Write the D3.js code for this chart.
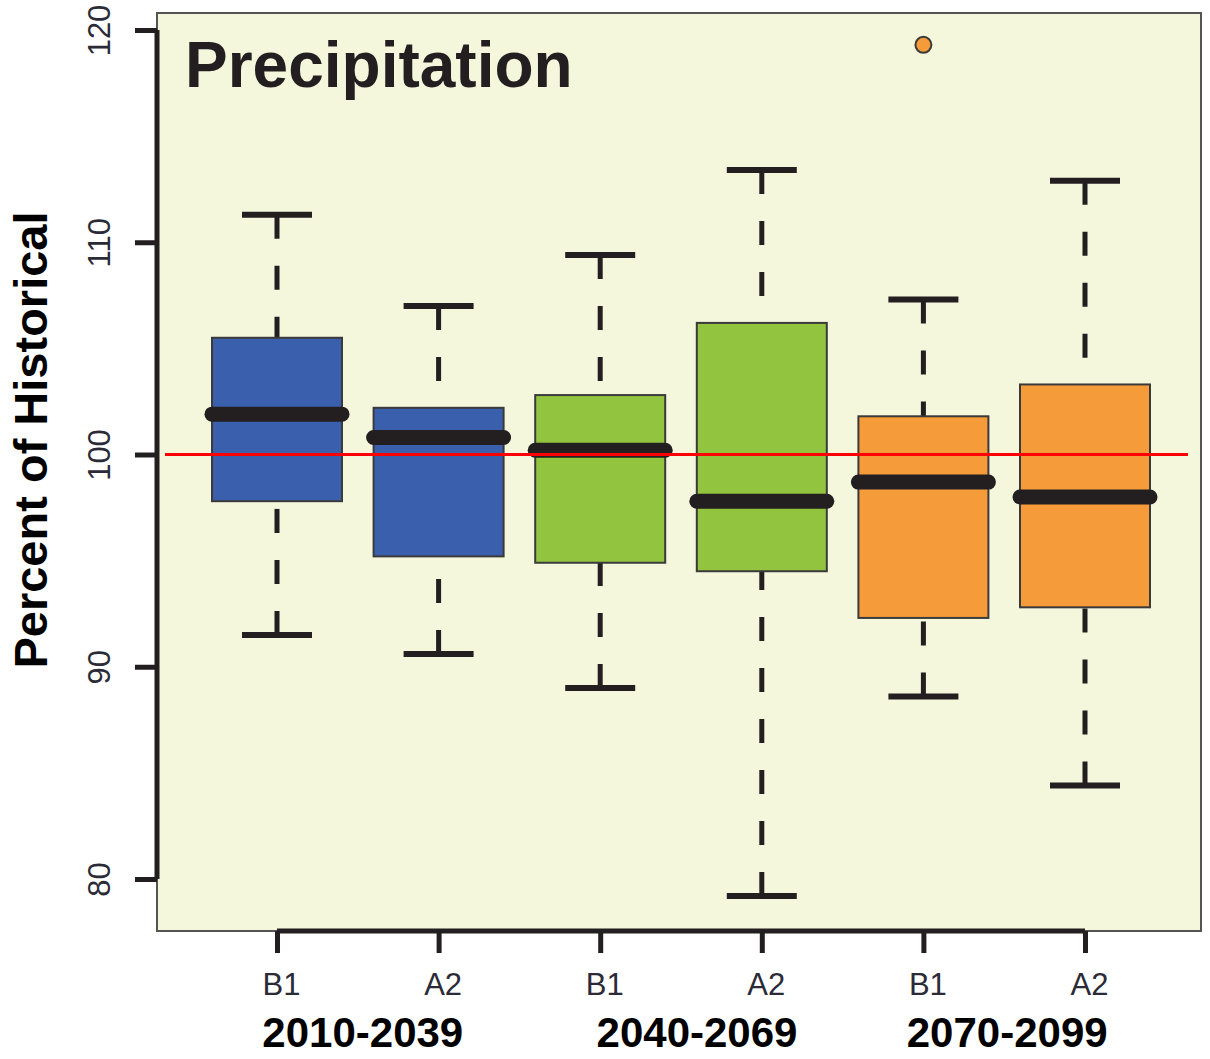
<!DOCTYPE html>
<html>
<head>
<meta charset="utf-8">
<script src="https://cdn.jsdelivr.net/npm/d3@7"></script>
<style>
  html, body { margin: 0; padding: 0; background: #ffffff; }
  svg { display: block; }
</style>
</head>
<body>
<svg id="chart" width="1210" height="1059"></svg>
<script>
// Projected precipitation, percent of historical, per period and emission scenario
const periods = ["2010-2039", "2040-2069", "2070-2099"];
const scenarios = ["B1", "A2", "B1", "A2", "B1", "A2"];
const boxPeriod = [0, 0, 1, 1, 2, 2];
const whiskerLow = [91.5, 90.6, 89.0, 79.2, 88.6, 84.4];
const q1 = [97.8, 95.2, 94.9, 94.5, 92.3, 92.8];
const medians = [101.9, 100.8, 100.2, 97.8, 98.7, 98.0];
const q3 = [105.5, 102.2, 102.8, 106.2, 101.8, 103.3];
const whiskerHigh = [111.3, 107.0, 109.4, 113.4, 107.3, 112.9];
const outlierBox = [4];
const outlierValue = [119.3];
const periodColors = ["#3a60ad", "#93c43f", "#f59b3a"];
const yTicks = [80, 90, 100, 110, 120];
const referenceLevel = 100;

const svg = d3.select("#chart");
const frame = { left: 157, top: 13, right: 1201, bottom: 931 };

const y = d3.scaleLinear().domain([80, 120]).range([879, 30]);
const x = d3.scalePoint().domain(d3.range(scenarios.length)).range([277, 1085]);
const halfBox = 65;
const halfCap = 35;
// horizontal nudge of each period label relative to the centre of its pair
const periodLabelShift = [5, 16, 3];

// plotting region
svg.append("rect")
  .attr("x", frame.left).attr("y", frame.top)
  .attr("width", frame.right - frame.left).attr("height", frame.bottom - frame.top)
  .attr("fill", "#f5f7dd").attr("stroke", "#555").attr("stroke-width", 2);

const ink = "#231f20";

// y axis
const yAxis = d3.axisLeft(y).tickValues(yTicks).tickSize(22).tickFormat(d3.format("d"));
const gy = svg.append("g").attr("transform", `translate(${frame.left},0)`).call(yAxis);
gy.select(".domain").attr("d", `M0,${y(80)}V${y(120)}`).attr("stroke", ink).attr("stroke-width", 5);
gy.selectAll(".tick line").attr("stroke", ink).attr("stroke-width", 5);
gy.selectAll(".tick text")
  .attr("x", null).attr("dy", null)
  .attr("transform", "translate(-58,0) rotate(-90)")
  .attr("text-anchor", "middle")
  .attr("dominant-baseline", "central")
  .attr("font-family", "Liberation Sans, Arial, sans-serif")
  .attr("font-size", 31)
  .attr("fill", "#2b2b38");

// x axis
const xAxis = d3.axisBottom(x).tickSize(22).tickFormat(i => scenarios[i]);
const gx = svg.append("g").attr("transform", `translate(0,${frame.bottom})`).call(xAxis);
gx.select(".domain").attr("d", `M${x(0)},0H${x(scenarios.length - 1)}`).attr("stroke", ink).attr("stroke-width", 5);
gx.selectAll(".tick line").attr("stroke", ink).attr("stroke-width", 5);
gx.selectAll(".tick text")
  .attr("x", 4)
  .attr("y", 64).attr("dy", null)
  .attr("font-family", "Liberation Sans, Arial, sans-serif")
  .attr("font-size", 31)
  .attr("fill", "#2b2b38");

// period labels under each pair of boxes
svg.append("g").selectAll("text").data(periods).join("text")
  .attr("x", (d, i) => {
    const members = d3.range(scenarios.length).filter(j => boxPeriod[j] === i);
    return d3.mean(members, j => x(j)) + periodLabelShift[i];
  })
  .attr("y", 1047)
  .attr("text-anchor", "middle")
  .attr("font-family", "Liberation Sans, Arial, sans-serif")
  .attr("font-weight", "bold")
  .attr("font-size", 42)
  .attr("fill", "#000")
  .text(d => d);

// whiskers: dashed stems drawn from the whisker end toward the box
const boxes = d3.range(scenarios.length);
const g = svg.append("g");
g.selectAll("line.stem-hi").data(boxes).join("line")
  .attr("x1", i => x(i)).attr("x2", i => x(i))
  .attr("y1", i => y(whiskerHigh[i])).attr("y2", i => y(q3[i]))
  .attr("stroke", ink).attr("stroke-width", 5).attr("stroke-dasharray", "24,27");
g.selectAll("line.stem-lo").data(boxes).join("line")
  .attr("x1", i => x(i)).attr("x2", i => x(i))
  .attr("y1", i => y(whiskerLow[i])).attr("y2", i => y(q1[i]))
  .attr("stroke", ink).attr("stroke-width", 5).attr("stroke-dasharray", "24,27");
g.selectAll("line.cap-hi").data(boxes).join("line")
  .attr("x1", i => x(i) - halfCap).attr("x2", i => x(i) + halfCap)
  .attr("y1", i => y(whiskerHigh[i])).attr("y2", i => y(whiskerHigh[i]))
  .attr("stroke", ink).attr("stroke-width", 6);
g.selectAll("line.cap-lo").data(boxes).join("line")
  .attr("x1", i => x(i) - halfCap).attr("x2", i => x(i) + halfCap)
  .attr("y1", i => y(whiskerLow[i])).attr("y2", i => y(whiskerLow[i]))
  .attr("stroke", ink).attr("stroke-width", 6);

// interquartile boxes
g.selectAll("rect.box").data(boxes).join("rect")
  .attr("x", i => x(i) - halfBox)
  .attr("y", i => y(q3[i]))
  .attr("width", halfBox * 2)
  .attr("height", i => y(q1[i]) - y(q3[i]))
  .attr("fill", i => periodColors[boxPeriod[i]])
  .attr("stroke", "#3a3a3a").attr("stroke-width", 2);

// medians
g.selectAll("line.median").data(boxes).join("line")
  .attr("x1", i => x(i) - halfBox).attr("x2", i => x(i) + halfBox)
  .attr("y1", i => y(medians[i])).attr("y2", i => y(medians[i]))
  .attr("stroke", ink).attr("stroke-width", 15).attr("stroke-linecap", "round");

// outliers
g.selectAll("circle.outlier").data(outlierBox).join("circle")
  .attr("cx", b => x(b))
  .attr("cy", (b, k) => y(outlierValue[k]))
  .attr("r", 8)
  .attr("fill", b => periodColors[boxPeriod[b]])
  .attr("stroke", "#3a3a3a").attr("stroke-width", 2);

// historical reference level
svg.append("line")
  .attr("x1", 165).attr("x2", 1188)
  .attr("y1", y(referenceLevel)).attr("y2", y(referenceLevel))
  .attr("stroke", "#ff0000").attr("stroke-width", 3);

// title
svg.append("text")
  .attr("x", 185).attr("y", 87)
  .attr("font-family", "Liberation Sans, Arial, sans-serif")
  .attr("font-weight", "bold").attr("font-size", 64)
  .attr("fill", ink)
  .text("Precipitation");

// y axis title
svg.append("text")
  .attr("transform", "translate(47,440) rotate(-90)")
  .attr("text-anchor", "middle")
  .attr("font-family", "Liberation Sans, Arial, sans-serif")
  .attr("font-weight", "bold").attr("font-size", 47)
  .attr("fill", "#000")
  .text("Percent of Historical");
</script>
</body>
</html>
